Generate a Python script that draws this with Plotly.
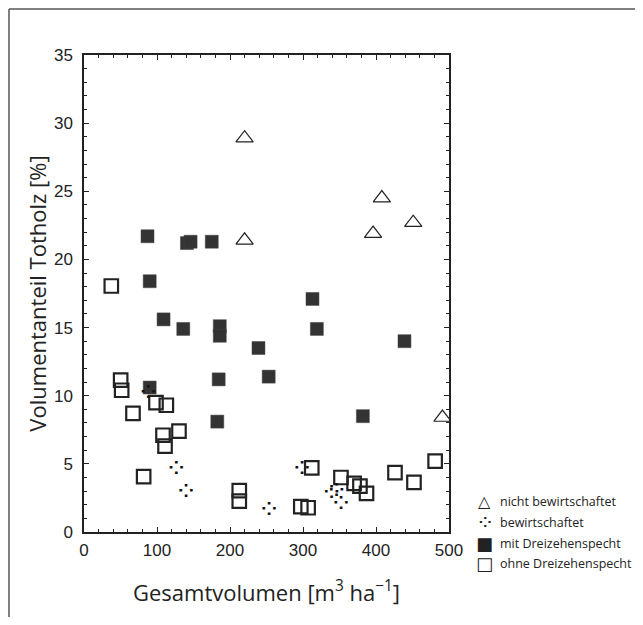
import plotly.graph_objects as go

# --- data ---
nicht_x = [220, 220, 408, 396, 451, 491]
nicht_y = [28.9, 21.4, 24.5, 21.9, 22.7, 8.4]

bew_x = [88, 126.5, 139.7, 253.4, 298.6, 339, 346, 352]
bew_y = [10.1, 4.5, 2.84, 1.5, 4.53, 2.79, 2.93, 1.98]

mit_x = [87, 141, 146, 175, 90, 109, 136, 186, 186, 239, 253, 184.5, 90, 182.6, 313, 319, 439, 382]
mit_y = [21.7, 21.2, 21.3, 21.3, 18.4, 15.6, 14.9, 15.1, 14.4, 13.5, 11.4, 11.2, 10.6, 8.1, 17.1, 14.9, 14.0, 8.5]

ohne_x = [37.4, 50.2, 51.6, 98.6, 112.8, 67.1, 108.2, 130.1, 111, 81.7, 212.7, 212.7,
          297, 307, 312, 352, 370, 378, 387, 426, 452, 481]
ohne_y = [18.05, 11.15, 10.4, 9.5, 9.3, 8.7, 7.1, 7.4, 6.3, 4.06, 3.03, 2.27,
          1.86, 1.78, 4.7, 4.0, 3.57, 3.37, 2.84, 4.35, 3.64, 5.2]

legend_labels = ["nicht bewirtschaftet", "bewirtschaftet", "mit Dreizehenspecht", "ohne Dreizehenspecht"]
legend_glyphs = ["\u25B3", "\u2058", "\u25A0", "\u25A1"]

x_title = "Gesamtvolumen [m<sup>3</sup> ha<sup>\u22121</sup>]"
y_title = "Volumentanteil Totholz [%]"

AX = "#222222"
fig = go.Figure()

fig.add_trace(go.Scatter(x=ohne_x, y=ohne_y, mode="markers", name=legend_labels[3],
                         marker=dict(symbol="square-open", size=13.5, color="#222222",
                                     line=dict(width=2.2, color="#222222"))))
fig.add_trace(go.Scatter(x=mit_x, y=mit_y, mode="markers", name=legend_labels[2],
                         marker=dict(symbol="square", size=13, color="#333333",
                                     line=dict(width=0.5, color="#444444"))))
fig.add_trace(go.Scatter(x=bew_x, y=bew_y, mode="text", name=legend_labels[1],
                         text=[legend_glyphs[1]] * len(bew_x),
                         textposition="middle center",
                         textfont=dict(family="DejaVu Sans", size=27, color="#111111")))
fig.add_trace(go.Scatter(x=nicht_x, y=nicht_y, mode="markers", name=legend_labels[0],
                         marker=dict(symbol="triangle-up-open", size=15, color="#222222",
                                     line=dict(width=1.2, color="#222222"))))

axis_common = dict(showline=True, linecolor=AX, linewidth=1.5, mirror="ticks",
                   ticks="inside", ticklen=5, tickwidth=1.3, tickcolor=AX,
                   showgrid=False, zeroline=False,
                   tickfont=dict(family="Liberation Sans", size=17, color="#222222"))

fig.update_xaxes(range=[0, 500], tickvals=[0, 100, 200, 300, 400, 500],
                 minor=dict(ticks="inside", dtick=20, ticklen=3, tickwidth=1, tickcolor=AX),
                 title=dict(text=x_title, font=dict(family="Open Sans", size=22, color="#222222"),
                            standoff=26),
                 ticklabelstandoff=2,
                 **axis_common)
fig.update_yaxes(range=[0, 35], tickvals=[0, 5, 10, 15, 20, 25, 30, 35],
                 minor=dict(ticks="inside", dtick=1, ticklen=3, tickwidth=1, tickcolor=AX),
                 title=dict(text=y_title, font=dict(family="Open Sans", size=22, color="#222222"),
                            standoff=1),
                 ticklabelstandoff=6,
                 **axis_common)

# outer frame of the figure panel (paper coordinates)
frame = dict(type="line", xref="paper", yref="paper", line=dict(color="#555555", width=1.5))
fig.add_shape(x0=-0.2055, y0=1.0964, x1=1.53, y1=1.0964, **frame)
fig.add_shape(x0=-0.2055, y0=1.0964, x1=-0.2055, y1=-0.25, **frame)
fig.add_shape(x0=1.518, y0=1.0964, x1=1.518, y1=-0.25, **frame)

# legend built from glyph + label annotations
rows_y = [0.0635, 0.0195, -0.0237, -0.0656]
glyph_sizes = [16, 22, 18, 18]
for g, lab, yy, gs in zip(legend_glyphs, legend_labels, rows_y, glyph_sizes):
    fig.add_annotation(xref="paper", yref="paper", x=1.0986, y=yy, text=g, showarrow=False,
                       xanchor="center", yanchor="middle",
                       font=dict(family="DejaVu Sans", size=gs, color="#222222"))
    fig.add_annotation(xref="paper", yref="paper", x=1.1334, y=yy, text=lab, showarrow=False,
                       xanchor="left", yanchor="middle",
                       font=dict(family="Open Sans", size=12.5, color="#222222"))

# page body has an 8px margin, so the figure is sized/placed to fit the window exactly
fig.update_layout(width=635, height=609, showlegend=False,
                  plot_bgcolor="white", paper_bgcolor="white",
                  margin=dict(l=76, r=194, t=47, b=85))

fig.write_html("out.html")
